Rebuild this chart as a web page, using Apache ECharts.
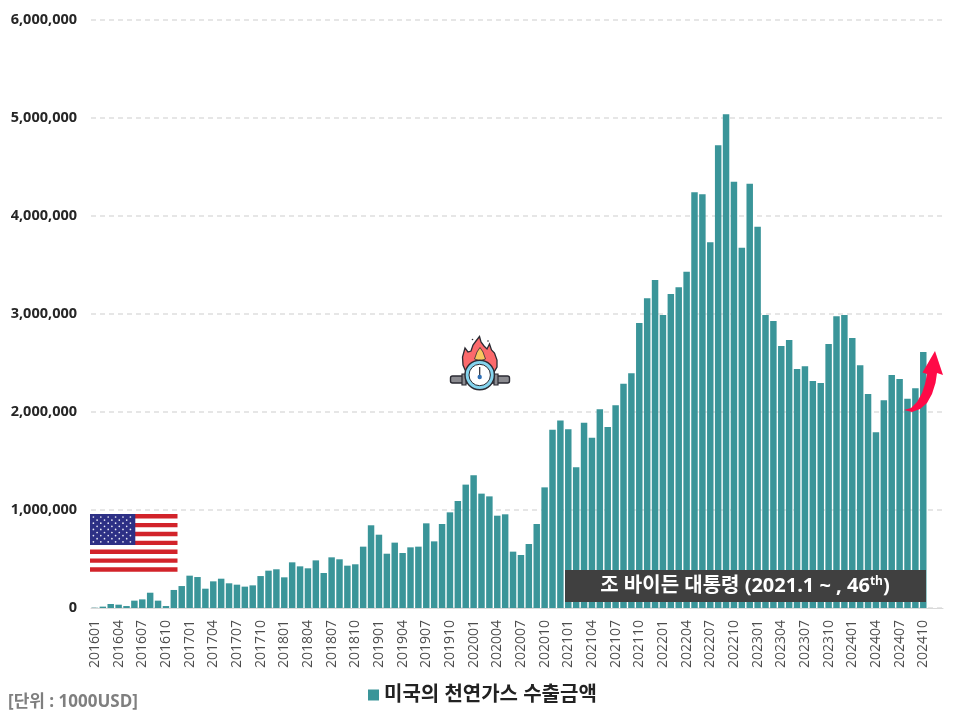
<!DOCTYPE html>
<html>
<head>
<meta charset="utf-8">
<style>
  html, body { margin: 0; padding: 0; background: #fff; }
  #chart { width: 960px; height: 720px; }
</style>
<script src="https://cdn.jsdelivr.net/npm/echarts@6/dist/echarts.min.js"></script>
</head>
<body>
<div id="chart"></div>
<script>
const seriesName = '미국의 천연가스 수출금액'
const unitLabel = '[단위 : 1000USD]'
const noteLabel = '조 바이든 대통령 (2021.1 ~ , 46{sup|th})'

const months = [
  '201601','201602','201603','201604','201605','201606','201607','201608','201609','201610','201611','201612',
  '201701','201702','201703','201704','201705','201706','201707','201708','201709','201710','201711','201712',
  '201801','201802','201803','201804','201805','201806','201807','201808','201809','201810','201811','201812',
  '201901','201902','201903','201904','201905','201906','201907','201908','201909','201910','201911','201912',
  '202001','202002','202003','202004','202005','202006','202007','202008','202009','202010','202011','202012',
  '202101','202102','202103','202104','202105','202106','202107','202108','202109','202110','202111','202112',
  '202201','202202','202203','202204','202205','202206','202207','202208','202209','202210','202211','202212',
  '202301','202302','202303','202304','202305','202306','202307','202308','202309','202310','202311','202312',
  '202401','202402','202403','202404','202405','202406','202407','202408','202409','202410'
]
// the axis runs on for two empty months after the last bar
const emptyMonths = ['', '']

const exportValues = [
  3000, 14000, 41000, 34000, 20000, 75000, 88000, 156000, 75000, 20000, 184000, 224000,
  330000, 316000, 197000, 272000, 299000, 252000, 238000, 218000, 231000, 326000, 381000, 395000,
  313000, 466000, 425000, 405000, 486000, 357000, 517000, 497000, 432000, 446000, 626000, 844000,
  748000, 554000, 667000, 561000, 619000, 626000, 864000, 680000, 857000, 976000, 1092000, 1259000,
  1354000, 1167000, 1139000, 942000, 956000, 575000, 541000, 653000, 857000, 1231000, 1820000, 1912000,
  1823000, 1435000, 1891000, 1738000, 2027000, 1847000, 2068000, 2289000, 2395000, 2908000, 3160000, 3347000,
  2990000, 3204000, 3272000, 3432000, 4242000, 4221000, 3731000, 4721000, 5038000, 4350000, 3677000, 4330000,
  3891000, 2990000, 2929000, 2673000, 2735000, 2439000, 2466000, 2316000, 2296000, 2694000, 2976000, 2990000,
  2755000, 2476000, 2184000, 1793000, 2119000, 2378000, 2337000, 2136000, 2242000, 2612000
]

const fontName = '"Open Sans", "Noto Sans CJK KR", sans-serif'

// 성조기
function flagElements() {
  const els = []
  const left = 90, top = 514, w = 87.5, stripe = 4.44
  for (let i = 0; i < 7; i++) {
    els.push({ type: 'rect', z: 10, shape: { x: left, y: top + i * 2 * stripe, width: w, height: stripe }, style: { fill: '#d2232a' } })
  }
  els.push({ type: 'rect', z: 11, shape: { x: left, y: top, width: 45.3, height: stripe * 7 }, style: { fill: '#2d3085' } })
  for (let row = 0; row < 9; row++) {
    const odd = row % 2 === 1
    const count = odd ? 5 : 6
    for (let c = 0; c < count; c++) {
      els.push({
        type: 'circle', z: 12,
        shape: { cx: left + 3.4 + (odd ? 3.7 : 0) + c * 7.4, cy: top + 3 + row * 3.1, r: 0.85 },
        style: { fill: '#e8e8f4' }
      })
    }
  }
  return els
}

// 가스 계량기 + 불꽃 아이콘
function gaugeElements() {
  const outline = '#2b2b33'
  return [
    { type: 'rect', z: 10, shape: { x: 450.5, y: 376, width: 59, height: 7, r: 2 }, style: { fill: '#8b8b90', stroke: outline, lineWidth: 1.4 } },
    { type: 'rect', z: 10, shape: { x: 462, y: 374, width: 4, height: 11 }, style: { fill: '#8b8b90', stroke: outline, lineWidth: 1.2 } },
    { type: 'rect', z: 10, shape: { x: 494, y: 374, width: 4, height: 11 }, style: { fill: '#8b8b90', stroke: outline, lineWidth: 1.2 } },
    {
      type: 'polygon', z: 11,
      shape: {
        points: [[466, 372], [463, 365], [462.5, 357], [465, 348], [468, 352], [471, 351], [473, 345], [476, 341], [479.5, 336.5],
          [481, 342], [484, 346], [487, 349], [489.5, 344], [491.5, 350], [494.5, 353], [497, 360], [497, 367], [494, 372]]
      },
      style: { fill: '#fb6a6c', stroke: outline, lineWidth: 1.3 }
    },
    { type: 'polygon', z: 12, shape: { points: [[480, 347.5], [483, 352], [485.5, 359], [480, 361], [474.5, 359], [477, 352]] }, style: { fill: '#f9c75f', stroke: outline, lineWidth: 0.8 } },
    { type: 'circle', z: 13, shape: { cx: 479.7, cy: 375, r: 14.7 }, style: { fill: '#84d4ee', stroke: outline, lineWidth: 1.4 } },
    { type: 'circle', z: 14, shape: { cx: 479.7, cy: 375, r: 10.7 }, style: { fill: '#ffffff', stroke: outline, lineWidth: 1 } },
    { type: 'line', z: 15, shape: { x1: 479.7, y1: 367, x2: 479.7, y2: 376 }, style: { stroke: outline, lineWidth: 1.2 } },
    { type: 'circle', z: 15, shape: { cx: 479.7, cy: 377, r: 2.2 }, style: { fill: '#2f6fb5' } },
    { type: 'circle', z: 11, shape: { cx: 472.5, cy: 339.5, r: 0.8 }, style: { fill: outline } },
    { type: 'circle', z: 11, shape: { cx: 488, cy: 341, r: 0.8 }, style: { fill: outline } }
  ]
}

const chart = echarts.init(document.getElementById('chart'))

chart.setOption({
  animation: false,
  backgroundColor: '#ffffff',
  textStyle: { fontFamily: fontName },
  grid: { left: 91, right: 17, top: 20, bottom: 112, containLabel: false },
  legend: {
    data: [seriesName],
    left: 363,
    top: 680,
    itemWidth: 11,
    itemHeight: 11,
    itemGap: 6,
    icon: 'rect',
    textStyle: { fontFamily: fontName, fontSize: 20, fontWeight: 'bold', color: '#222222' }
  },
  xAxis: {
    type: 'category',
    data: months.concat(emptyMonths),
    boundaryGap: true,
    axisLine: { lineStyle: { color: '#d9d9d9' } },
    axisTick: { show: false },
    axisLabel: {
      interval: 2,
      rotate: 90,
      margin: 12,
      fontFamily: fontName,
      fontSize: 14,
      color: '#4d4d4d'
    }
  },
  yAxis: {
    type: 'value',
    min: 0,
    max: 6000000,
    interval: 1000000,
    axisLine: { show: false },
    axisTick: { show: false },
    axisLabel: {
      margin: 14,
      fontFamily: fontName,
      fontSize: 14.5,
      fontWeight: 'bold',
      color: '#262626',
      formatter: v => v.toLocaleString('en-US')
    },
    splitLine: { lineStyle: { color: '#dedede', type: [5, 4], width: 1.5 } }
  },
  series: [
    {
      name: seriesName,
      type: 'bar',
      data: exportValues,
      barWidth: '82%',
      itemStyle: { color: '#3a9599' }
    }
  ],
  graphic: {
    elements: [
      ...flagElements(),
      ...gaugeElements(),
      { type: 'rect', z: 10, shape: { x: 565, y: 570, width: 361, height: 32 }, style: { fill: '#404040' } },
      {
        type: 'text', z: 11, x: 745, y: 586,
        style: {
          text: noteLabel,
          fill: '#ffffff',
          font: 'bold 20px ' + fontName,
          align: 'center',
          verticalAlign: 'middle',
          rich: { sup: { fontSize: 12, fontWeight: 'bold', fill: '#ffffff', padding: [0, 0, 9, 0], fontFamily: fontName } }
        }
      },
      {
        type: 'polygon', z: 12,
        shape: {
          points: [[904, 410], [911, 408], [917, 402], [922, 393], [925, 384], [927, 374], [922.5, 372.5], [935, 351], [943, 375],
            [937, 373], [935.5, 383], [932, 394], [927, 403], [920, 409], [912, 412]]
        },
        style: { fill: '#ff0a47' }
      },
      {
        type: 'text', z: 10, x: 8, y: 702,
        style: { text: unitLabel, fill: '#7f7f7f', font: 'bold 17px ' + fontName, align: 'left', verticalAlign: 'middle' }
      }
    ]
  }
})
</script>
</body>
</html>
